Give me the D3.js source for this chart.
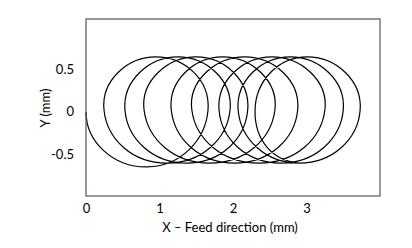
<!DOCTYPE html>
<html>
<head>
<meta charset="utf-8">
<script src="https://cdn.jsdelivr.net/npm/d3@7"></script>
<style>
  body { margin: 0; background: #fff; }
  text { font-family: Lato, "Open Sans", sans-serif; fill: #000; }
</style>
</head>
<body>
<script>
// tool path (mm)
var leadIn = [[0, 0], [0.83, -0.655]];
var leadInGuide = [0.83, 0.655];   // top of the entry arc, only steers the curve
var rightX = [1.66, 1.96, 2.20, 2.57, 2.88, 3.25, 3.50, 3.73];
var topX = [0.95, 1.25, 1.50, 1.86, 2.16, 2.53, 2.78, 3.01];
var leftX = [0.245, 0.53, 0.79, 1.16, 1.44, 1.81, 2.07, 2.30];
var bottomX = [1.10, 1.37, 1.68, 2.02, 2.35, 2.65, 2.90, 2.98];
var leadOutGuide = [3.95, 0.02];
var midY = 0.02, topY = 0.65, bottomY = -0.61;

var xTicks = [0, 1, 2, 3];
var yTicks = [-0.5, 0, 0.5];

var width = 412, height = 248;
var margin = {top: 19, left: 86, right: 32, bottom: 52};

var svg = d3.select('body').append('svg')
  .attr('width', width)
  .attr('height', height);

var x = d3.scaleLinear().domain([0, 4]).range([margin.left, width - margin.right]);
var y = d3.scaleLinear().domain([-1, 1.1]).range([height - margin.bottom, margin.top]);

// build the path points loop by loop
var pts = [leadInGuide].concat(leadIn);
for (var i = 0; i < rightX.length; i++) {
  pts.push([rightX[i], midY]);
  pts.push([topX[i], topY]);
  pts.push([leftX[i], midY]);
  pts.push([bottomX[i], bottomY]);
}
pts.push(leadOutGuide);

// cardinal spline (negative tension rounds quarter points into circles),
// first and last segments dropped since they only lead to the guide points
function trimmedCardinal(context) {
  var segs = [];
  var rec = {
    moveTo: function(a, b) { segs.push([a, b]); },
    lineTo: function(a, b) { segs.push([a, b]); },
    bezierCurveTo: function(a, b, c, d, e, f) { segs.push([a, b, c, d, e, f]); },
    closePath: function() {}
  };
  var inner = d3.curveCardinal.tension(-0.65)(rec);
  return {
    areaStart: function() {}, areaEnd: function() {},
    lineStart: function() { segs = []; inner.lineStart(); },
    point: function(a, b) { inner.point(a, b); },
    lineEnd: function() {
      inner.lineEnd();
      var c = segs.filter(s => s.length === 6);
      context.moveTo(c[0][4], c[0][5]);
      for (var j = 1; j < c.length - 1; j++) {
        context.bezierCurveTo(c[j][0], c[j][1], c[j][2], c[j][3], c[j][4], c[j][5]);
      }
    }
  };
}

var line = d3.line()
  .x(d => x(d[0]))
  .y(d => y(d[1]))
  .curve(trimmedCardinal);

svg.append('path')
  .datum(pts)
  .attr('fill', 'none')
  .attr('stroke', '#000')
  .attr('stroke-width', 1.2)
  .attr('d', line);

// frame
svg.append('rect')
  .attr('x', x(0))
  .attr('y', y(1.1))
  .attr('width', x(4) - x(0))
  .attr('height', y(-1) - y(1.1))
  .attr('fill', 'none')
  .attr('stroke', '#555')
  .attr('stroke-width', 1.2);

var xAxis = svg.append('g')
  .attr('transform', 'translate(0,' + (height - margin.bottom) + ')')
  .call(d3.axisBottom(x).tickValues(xTicks).tickSize(0).tickPadding(8).tickFormat(d => String(d)));
xAxis.select('.domain').remove();

var yAxis = svg.append('g')
  .attr('transform', 'translate(' + margin.left + ',0)')
  .call(d3.axisLeft(y).tickValues(yTicks).tickSize(0).tickPadding(12).tickFormat(d => String(d)));
yAxis.select('.domain').remove();

svg.selectAll('.tick text')
  .style('font-family', 'Lato, "Open Sans", sans-serif')
  .style('font-size', '13px')
  .attr('fill', '#000');

svg.append('text')
  .attr('x', 230)
  .attr('y', 232)
  .attr('text-anchor', 'middle')
  .style('font-size', '13px')
  .text('X – Feed direction (mm)');

svg.append('text')
  .attr('transform', 'translate(50,108) rotate(-90)')
  .attr('text-anchor', 'middle')
  .style('font-size', '13px')
  .text('Y (mm)');
</script>
</body>
</html>
